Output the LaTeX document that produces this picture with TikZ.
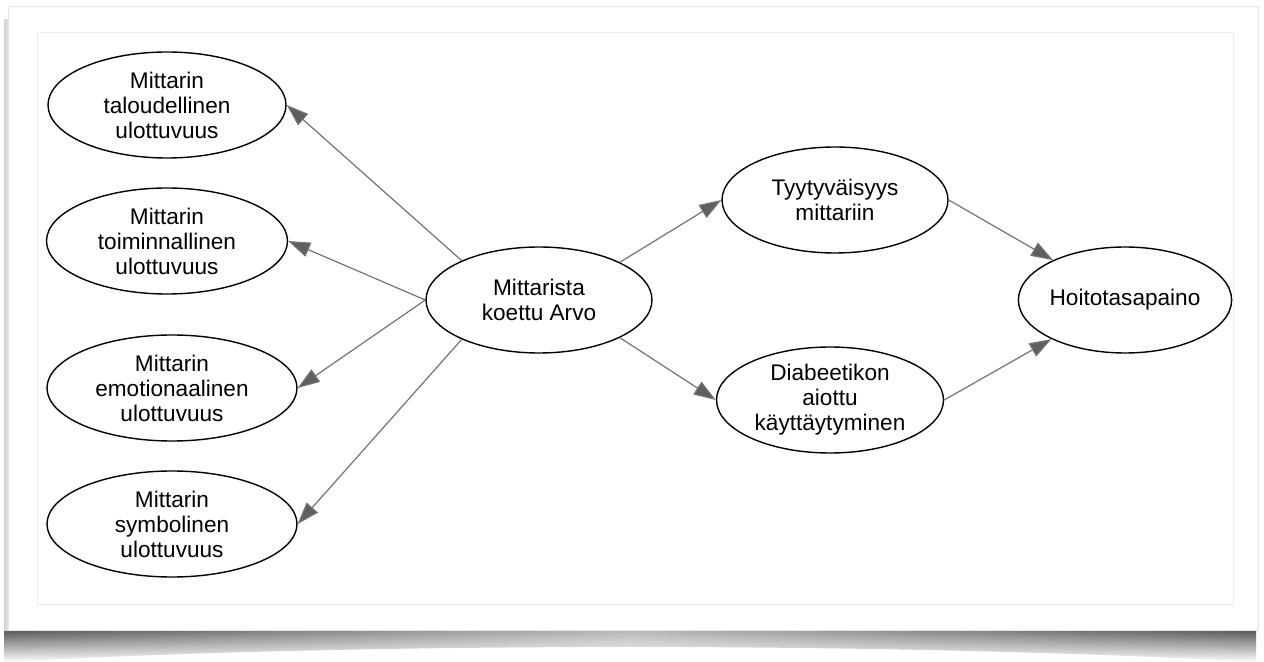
\documentclass[tikz,border=0pt]{standalone}
\usepackage{fontspec}
\setmainfont{Liberation Sans}
\usetikzlibrary{shapes.geometric, arrows.meta, fadings}
\definecolor{reunaharmaa}{RGB}{236,236,236}
\definecolor{viivaharmaa}{RGB}{115,115,115}
\definecolor{karjeharmaa}{RGB}{95,95,95}
\begin{document}
\begin{tikzpicture}[x=0.5pt, y=-0.5pt,
    soikio/.style={draw, ellipse, line width=0.7pt, inner sep=0pt, minimum height=53pt,
      align=center, font=\fontsize{11.3}{12.5}\selectfont},
    nuoli/.style={viivaharmaa, line width=0.6pt,
      -{Triangle[length=11pt, width=7.5pt, fill=karjeharmaa]}}]
  \useasboundingbox (0,0) rectangle (1264,662);
  \shade[left color=black!70, right color=black!70, middle color=black!30, path fading=south]
    (5,628) -- (1258,628) -- (1258,662) .. controls (900,642) and (360,642) .. (5,662) -- cycle;
  \shade[left color=black!18, right color=white] (4,20) rectangle (14,630);
  \fill[white] (8,6) rectangle (1258,630);
  \draw[black!10] (8,6) rectangle (1258,630);
  \draw[reunaharmaa] (37,32) rectangle (1233,604);
  \node[soikio, minimum width=119pt]   (talous)   at (167,105) {Mittarin\\taloudellinen\\ulottuvuus};
  \node[soikio, minimum width=120.5pt] (toiminta) at (167,241) {Mittarin\\toiminnallinen\\ulottuvuus};
  \node[soikio, minimum width=125pt]   (tunne)    at (172,388) {Mittarin\\emotionaalinen\\ulottuvuus};
  \node[soikio, minimum width=125pt]   (symboli)  at (172,524) {Mittarin\\symbolinen\\ulottuvuus};
  \node[soikio, minimum width=113pt]   (arvo)     at (539,300) {Mittarista\\koettu Arvo};
  \node[soikio, minimum width=113pt]   (tyyty)    at (835,200) {Tyytyväisyys\\mittariin};
  \node[soikio, minimum width=113.5pt] (aikomus)  at (830,400) {Diabeetikon\\aiottu\\käyttäytyminen};
  \node[soikio, minimum width=101.5pt] (hoito)    at (1125,300) {Hoitotasapaino};
  \draw[nuoli] (arvo.153) -- (talous.east);
  \draw[nuoli] (arvo.west) -- (toiminta.east);
  \draw[nuoli] (arvo.west) -- (tunne.east);
  \draw[nuoli] (arvo.207) -- (symboli.east);
  \draw[nuoli] (arvo.25) -- (tyyty.west);
  \draw[nuoli] (arvo.335) -- (aikomus.west);
  \draw[nuoli] (tyyty.east) -- (hoito.151);
  \draw[nuoli] (aikomus.east) -- (hoito.208);
\end{tikzpicture}
\end{document}
